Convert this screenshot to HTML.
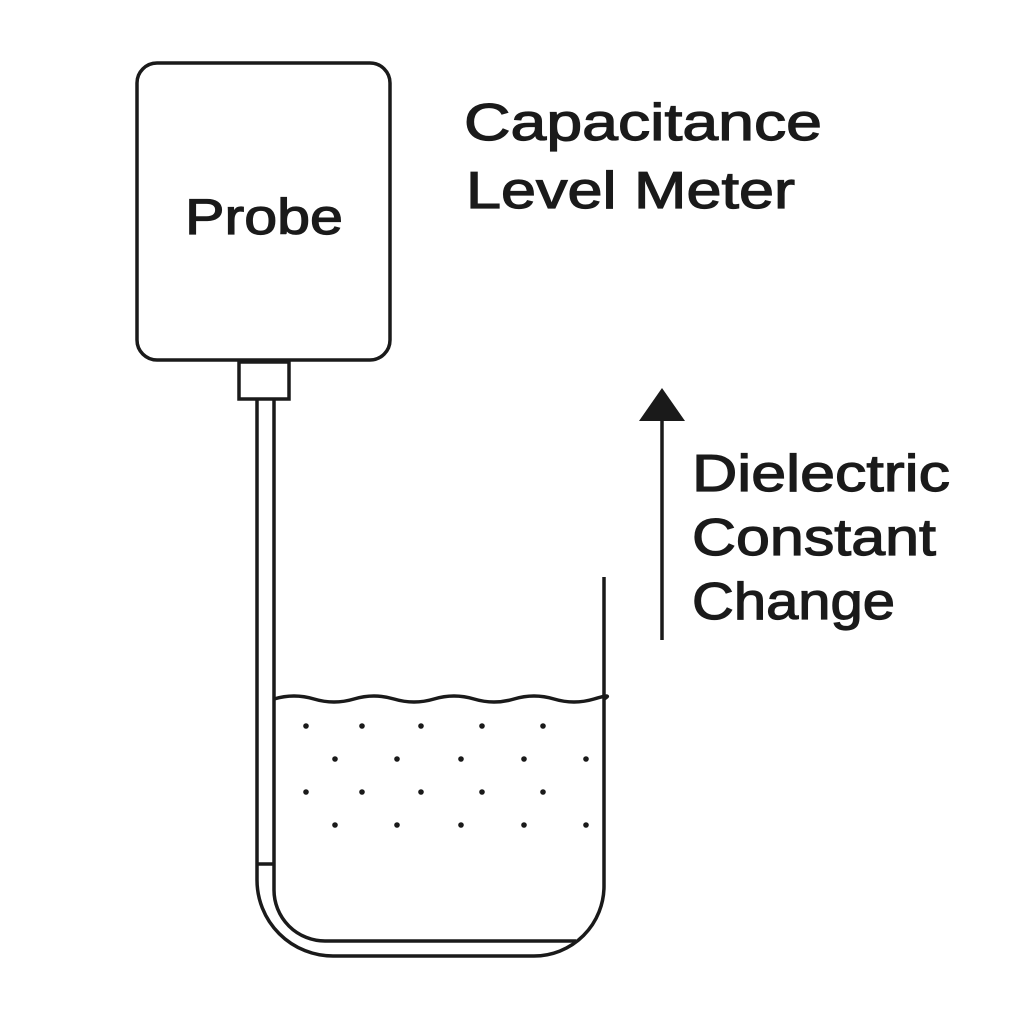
<!DOCTYPE html>
<html><head><style>body{margin:0;background:#fff}</style></head><body>
<svg width="1024" height="1024" viewBox="0 0 1024 1024" xmlns="http://www.w3.org/2000/svg" font-family="Liberation Sans, sans-serif" fill="#1a1a1a">
<g fill="none" stroke="#1a1a1a" stroke-width="3.5">
<rect x="137" y="63" width="253" height="297" rx="20"/>
<rect x="239" y="362" width="50" height="37"/>
<path d="M257 399 V880 A76 76 0 0 0 333 956 H534 A70 70 0 0 0 604 886 V577"/>
<path d="M274 399 V890 A51 51 0 0 0 325 941 H576"/>
<path d="M257 864 H274"/>
<path d="M274 699 q20 -6 40 0 t40 0 t40 0 t40 0 t40 0 t40 0 t40 0 t40 0 t10 0"/>
<path d="M662 640 V418"/>
</g>
<polygon points="662,388 639,421 685,421"/>
<g>
<circle cx="306" cy="726" r="2.8"/><circle cx="362" cy="726" r="2.8"/><circle cx="421" cy="726" r="2.8"/><circle cx="482" cy="726" r="2.8"/><circle cx="543" cy="726" r="2.8"/>
<circle cx="335" cy="759" r="2.8"/><circle cx="397" cy="759" r="2.8"/><circle cx="461" cy="759" r="2.8"/><circle cx="524" cy="759" r="2.8"/><circle cx="586" cy="759" r="2.8"/>
<circle cx="306" cy="792" r="2.8"/><circle cx="362" cy="792" r="2.8"/><circle cx="421" cy="792" r="2.8"/><circle cx="482" cy="792" r="2.8"/><circle cx="543" cy="792" r="2.8"/>
<circle cx="335" cy="825" r="2.8"/><circle cx="397" cy="825" r="2.8"/><circle cx="461" cy="825" r="2.8"/><circle cx="524" cy="825" r="2.8"/><circle cx="586" cy="825" r="2.8"/>
</g>
<g stroke="#1a1a1a" stroke-width="1.2" lengthAdjust="spacingAndGlyphs">
<text x="185" y="234" font-size="50" textLength="158" lengthAdjust="spacingAndGlyphs">Probe</text>
<text x="464" y="140" font-size="52" textLength="358" lengthAdjust="spacingAndGlyphs">Capacitance</text>
<text x="466" y="208" font-size="52" textLength="329" lengthAdjust="spacingAndGlyphs">Level Meter</text>
<text x="692" y="491" font-size="52" textLength="258" lengthAdjust="spacingAndGlyphs">Dielectric</text>
<text x="692" y="555" font-size="52" textLength="244" lengthAdjust="spacingAndGlyphs">Constant</text>
<text x="692" y="619" font-size="52" textLength="203" lengthAdjust="spacingAndGlyphs">Change</text>
</g>
</svg>
</body></html>
